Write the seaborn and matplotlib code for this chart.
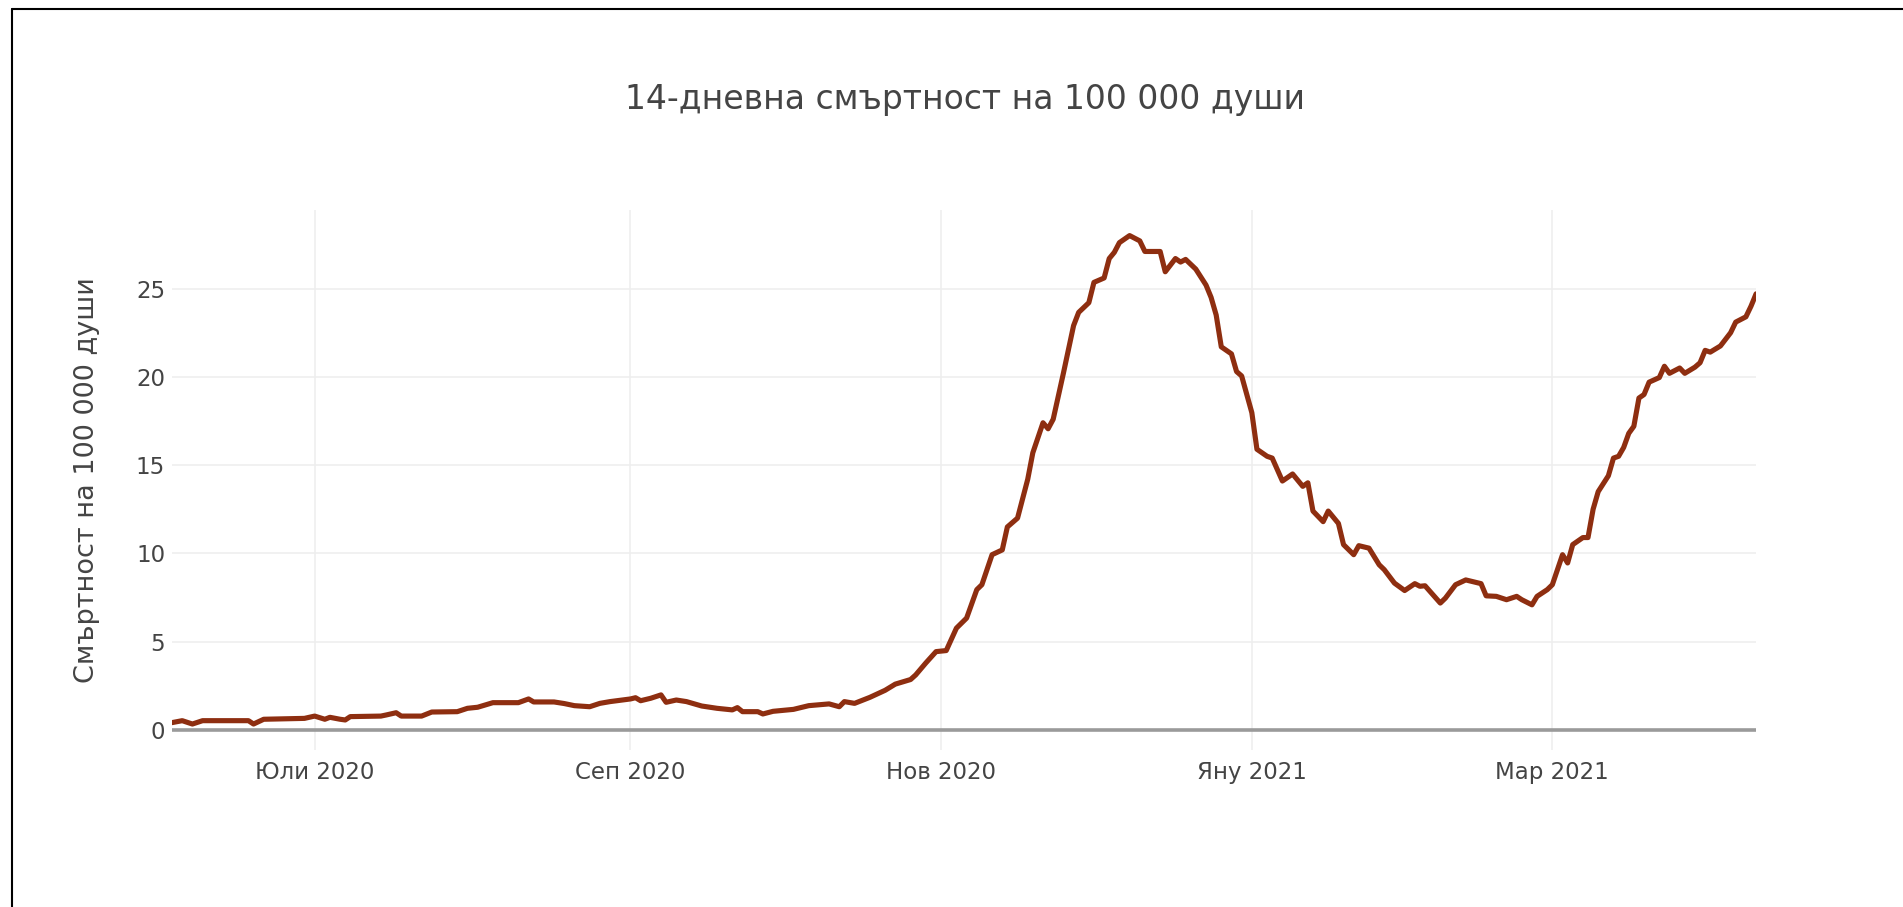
import pandas as pd
import matplotlib.pyplot as plt
from matplotlib.lines import Line2D
import seaborn as sns

# данни, отчетени от графиката
dates = [
    "2020-06-03", "2020-06-05", "2020-06-07", "2020-06-09", "2020-06-18", "2020-06-19",
    "2020-06-21", "2020-06-29", "2020-07-01", "2020-07-03", "2020-07-04", "2020-07-06",
    "2020-07-07", "2020-07-08", "2020-07-14", "2020-07-15", "2020-07-17", "2020-07-18",
    "2020-07-22", "2020-07-24", "2020-07-29", "2020-07-31", "2020-08-02", "2020-08-05",
    "2020-08-10", "2020-08-12", "2020-08-13", "2020-08-17", "2020-08-19", "2020-08-21",
    "2020-08-24", "2020-08-26", "2020-08-28", "2020-09-01", "2020-09-02", "2020-09-03",
    "2020-09-05", "2020-09-07", "2020-09-08", "2020-09-10", "2020-09-12", "2020-09-15",
    "2020-09-18", "2020-09-21", "2020-09-22", "2020-09-23", "2020-09-26", "2020-09-27",
    "2020-09-29", "2020-10-03", "2020-10-06", "2020-10-10", "2020-10-12", "2020-10-13",
    "2020-10-15", "2020-10-18", "2020-10-21", "2020-10-23", "2020-10-26", "2020-10-27",
    "2020-10-29", "2020-10-31", "2020-11-02", "2020-11-04", "2020-11-06", "2020-11-08",
    "2020-11-09", "2020-11-11", "2020-11-13", "2020-11-14", "2020-11-16", "2020-11-18",
    "2020-11-19", "2020-11-21", "2020-11-22", "2020-11-23", "2020-11-25", "2020-11-27",
    "2020-11-28", "2020-11-30", "2020-12-01", "2020-12-03", "2020-12-04", "2020-12-05",
    "2020-12-06", "2020-12-08", "2020-12-10", "2020-12-11", "2020-12-14", "2020-12-15",
    "2020-12-17", "2020-12-18", "2020-12-19", "2020-12-21", "2020-12-23", "2020-12-24",
    "2020-12-25", "2020-12-26", "2020-12-28", "2020-12-29", "2020-12-30", "2021-01-01",
    "2021-01-02", "2021-01-04", "2021-01-05", "2021-01-07", "2021-01-09", "2021-01-11",
    "2021-01-12", "2021-01-13", "2021-01-15", "2021-01-16", "2021-01-18", "2021-01-19",
    "2021-01-21", "2021-01-22", "2021-01-24", "2021-01-26", "2021-01-27", "2021-01-29",
    "2021-01-31", "2021-02-02", "2021-02-03", "2021-02-04", "2021-02-07", "2021-02-08",
    "2021-02-10", "2021-02-12", "2021-02-15", "2021-02-16", "2021-02-18", "2021-02-20",
    "2021-02-22", "2021-02-23", "2021-02-25", "2021-02-26", "2021-02-28", "2021-03-01",
    "2021-03-03", "2021-03-04", "2021-03-05", "2021-03-07", "2021-03-08", "2021-03-09",
    "2021-03-10", "2021-03-12", "2021-03-13", "2021-03-14", "2021-03-15", "2021-03-16",
    "2021-03-17", "2021-03-18", "2021-03-19", "2021-03-20", "2021-03-22", "2021-03-23",
    "2021-03-24", "2021-03-26", "2021-03-27", "2021-03-29", "2021-03-30", "2021-03-31",
    "2021-04-01", "2021-04-03", "2021-04-05", "2021-04-06", "2021-04-08", "2021-04-09",
    "2021-04-10",
]
mortality = [
    0.42, 0.53, 0.34, 0.53, 0.53, 0.34,
    0.61, 0.66, 0.79, 0.61, 0.72, 0.61,
    0.57, 0.76, 0.79, 0.85, 0.98, 0.79,
    0.79, 1.02, 1.04, 1.23, 1.29, 1.55,
    1.55, 1.76, 1.59, 1.59, 1.50, 1.38,
    1.32, 1.51, 1.61, 1.76, 1.83, 1.66,
    1.80, 1.99, 1.57, 1.70, 1.61, 1.36,
    1.23, 1.14, 1.27, 1.04, 1.04, 0.91,
    1.06, 1.17, 1.38, 1.48, 1.32, 1.61,
    1.51, 1.85, 2.25, 2.60, 2.86, 3.12,
    3.80, 4.44, 4.50, 5.77, 6.34, 7.95,
    8.23, 9.93, 10.2, 11.5, 12.0, 14.2,
    15.7, 17.4, 17.06, 17.6, 20.2, 22.9,
    23.65, 24.2, 25.35, 25.6, 26.7, 27.05,
    27.6, 28.0, 27.7, 27.1, 27.1, 25.95,
    26.7, 26.5, 26.65, 26.1, 25.2, 24.5,
    23.5, 21.7, 21.3, 20.3, 20.05, 17.97,
    15.9, 15.5, 15.4, 14.1, 14.5, 13.8,
    14.0, 12.4, 11.8, 12.4, 11.7, 10.5,
    9.93, 10.44, 10.3, 9.36, 9.08, 8.32,
    7.9, 8.29, 8.14, 8.17, 7.19, 7.47,
    8.23, 8.5, 8.29, 7.6, 7.57, 7.38,
    7.57, 7.38, 7.09, 7.57, 7.95, 8.23,
    9.93, 9.46, 10.5, 10.9, 10.9, 12.5,
    13.5, 14.4, 15.4, 15.5, 16.0, 16.8,
    17.2, 18.8, 19.0, 19.7, 19.96, 20.6,
    20.2, 20.5, 20.2, 20.55, 20.8, 21.5,
    21.4, 21.75, 22.5, 23.1, 23.4, 24.0,
    24.7,
]

tick_dates = ["2020-07-01", "2020-09-01", "2020-11-01", "2021-01-01", "2021-03-01"]
tick_labels = ["Юли 2020", "Сеп 2020", "Нов 2020", "Яну 2021", "Мар 2021"]
y_ticks = [0, 5, 10, 15, 20, 25]

chart_title = "14-дневна смъртност на 100 000 души"
y_title = "Смъртност на 100 000 души"

df = pd.DataFrame({"date": pd.to_datetime(dates), "value": mortality})

sns.set_theme(style="white")
plt.rcParams["font.family"] = ["DejaVu Sans"]

fig = plt.figure(figsize=(19.03, 9.07), dpi=100)
ax = fig.add_axes([0.0904, 0.1735, 0.8324, 0.595])

# решетка
for t in y_ticks[1:]:
    ax.axhline(t, color="#eeeeee", lw=1.1, zorder=0)
for d in pd.to_datetime(tick_dates):
    ax.axvline(d, color="#eeeeee", lw=1.1, zorder=0)
ax.axhline(0, color="#9a9a9a", lw=2.6, zorder=1)

sns.lineplot(data=df, x="date", y="value", ax=ax, color="#8e2e10", linewidth=3.7,
             solid_joinstyle="round", solid_capstyle="round", zorder=3)

ax.set_xlim(df["date"].iloc[0], df["date"].iloc[-1])
ax.set_ylim(-1.11, 29.45)
ax.set_xticks(pd.to_datetime(tick_dates))
ax.set_xticklabels(tick_labels)
ax.set_yticks(y_ticks)
ax.tick_params(axis="both", length=0, labelsize=16.5, labelcolor="#444444")
ax.tick_params(axis="x", pad=8)
ax.tick_params(axis="y", pad=5)

for s in ax.spines.values():
    s.set_visible(False)

ax.set_xlabel("")
ax.set_ylabel(y_title, fontsize=19.5, color="#444444")
ax.yaxis.label.set_va("center")
ax.yaxis.set_label_coords(-0.0537, 0.5)

fig.text(0.507, 0.890, chart_title, ha="center", va="center", fontsize=23.8, color="#444444")

# рамка на екранната снимка
fig.add_artist(Line2D([0.0063, 0.0063], [0.0, 0.990], color="black", lw=1.5))
fig.add_artist(Line2D([0.0063, 1.0], [0.990, 0.990], color="black", lw=1.5))

fig.savefig("out.png", dpi=100, facecolor="white")
